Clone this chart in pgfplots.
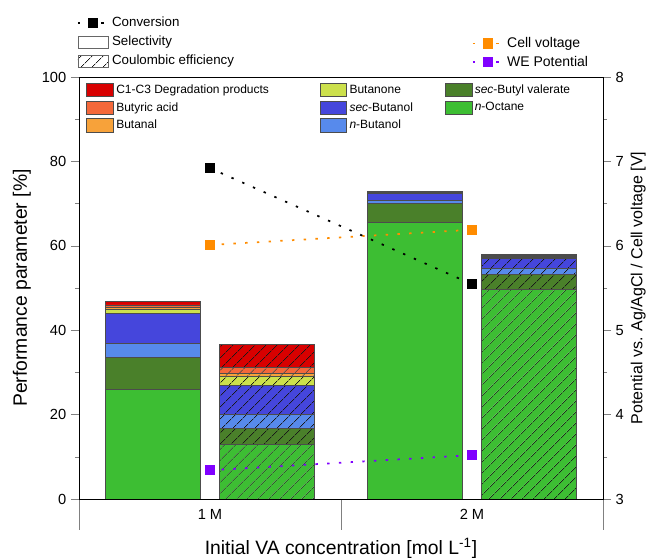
\documentclass[border=0pt]{standalone}
\usepackage{fontspec}
\setmainfont{Liberation Sans}
\usepackage{pgfplots}
\usepackage{pgfplotstable}
\pgfplotsset{compat=1.18}
\usetikzlibrary{patterns.meta}

\definecolor{cCC}{HTML}{D80000}
\definecolor{cBA}{HTML}{F4683A}
\definecolor{cBal}{HTML}{F7A23A}
\definecolor{cBon}{HTML}{CCE04C}
\definecolor{csBu}{HTML}{4546DC}
\definecolor{cnBu}{HTML}{578AEC}
\definecolor{csBV}{HTML}{4A802A}
\definecolor{cOct}{HTML}{3DBE33}
\definecolor{cCV}{HTML}{FF8C00}
\definecolor{cWE}{HTML}{8000FF}

\tikzset{hatch/.style={postaction={pattern={Lines[angle=45,distance=6.5pt,line width=0.6pt]},pattern color=black!90}}}

\pgfplotsset{
  patchA/.style={legend image code/.code={\draw[##1] (0pt,-4.5pt) rectangle (23pt,4.5pt);}},
  lineA/.style={legend image code/.code={\draw[mark repeat=2,mark phase=2,##1] plot coordinates {(0pt,0pt) (11.5pt,0pt) (23pt,0pt)};}},
  common/.style={scale only axis, width=393pt, height=316.5pt, xmin=0.5, xmax=2.5,
    tick label style={font=\fontsize{11}{13}\selectfont},
    /pgf/number format/assume math mode=true,
    tick align=outside, major tick length=6pt, minor tick length=3pt},
}

% selectivity [%]
\pgfplotstableread{
x Oct sBV nBu sBu Bon Bal BA CC
1 26.0 7.6 3.3 7.1 0.9 0.5 0.6 0.8
2 65.5 4.6 0.6 1.7 0.1 0.1 0.1 0.2
}\sel
% coulombic efficiency [%]
\pgfplotstableread{
x Oct sBV nBu sBu Bon Bal BA CC
1 13.0 3.8 3.3 6.8 2.2 0.7 1.3 5.55
2 49.7 3.6 1.35 2.35 0.3 0.2 0.2 0.3
}\ce

\begin{document}
\begin{tikzpicture}
\useasboundingbox (-59.25pt,-45.75pt) rectangle (431.25pt,374.25pt);
% axis 1: selectivity bars, left axis
\begin{axis}[common, ymin=0, ymax=100,
  ybar stacked, bar width=71.25pt, bar shift=-42.75pt,
  xtick=\empty, ytick={0,20,...,100}, minor y tick num=1, ytick pos=left,
  ylabel={Performance parameter [\%]},
  ylabel style={at={(axis description cs:-0.109,0.5)}, anchor=center, font=\fontsize{14.5}{17}\selectfont},
  legend image code/.code={\draw[#1] (0pt,-5pt) rectangle (20pt,5pt);},
  legend style={at={(axis description cs:0.006,0.995)}, anchor=north west, draw=none, fill=none,
    font=\fontsize{9}{10.5}\selectfont, row sep=1.2pt,
    /tikz/column 2/.style={column sep=36pt}, /tikz/column 4/.style={column sep=22pt}},
  legend columns=3, transpose legend, legend cell align=left]
\addplot[fill=cOct, draw=black!70, forget plot] table[x=x,y=Oct]{\sel};
\addplot[fill=csBV, draw=black!70, forget plot] table[x=x,y=sBV]{\sel};
\addplot[fill=cnBu, draw=black!70, forget plot] table[x=x,y=nBu]{\sel};
\addplot[fill=csBu, draw=black!70, forget plot] table[x=x,y=sBu]{\sel};
\addplot[fill=cBon, draw=black!70, forget plot] table[x=x,y=Bon]{\sel};
\addplot[fill=cBal, draw=black!70, forget plot] table[x=x,y=Bal]{\sel};
\addplot[fill=cBA, draw=black!70, forget plot] table[x=x,y=BA]{\sel};
\addplot[fill=cCC, draw=black!70, forget plot] table[x=x,y=CC]{\sel};
\addlegendimage{fill=cCC, draw=black!70}\addlegendentry{C1-C3 Degradation products}
\addlegendimage{fill=cBA, draw=black!70}\addlegendentry{Butyric acid}
\addlegendimage{fill=cBal, draw=black!70}\addlegendentry{Butanal}
\addlegendimage{fill=cBon, draw=black!70}\addlegendentry{Butanone}
\addlegendimage{fill=csBu, draw=black!70}\addlegendentry{\textit{sec}-Butanol}
\addlegendimage{fill=cnBu, draw=black!70}\addlegendentry{\textit{n}-Butanol}
\addlegendimage{fill=csBV, draw=black!70}\addlegendentry{\textit{sec}-Butyl valerate}
\addlegendimage{fill=cOct, draw=black!70}\addlegendentry{\textit{n}-Octane}
\end{axis}
% axis 2: coulombic efficiency bars (hatched) + group separators
\begin{axis}[common, ymin=0, ymax=100,
  ybar stacked, bar width=71.25pt, bar shift=42.75pt,
  ytick=\empty, xtick={0.5,1.5,2.5}, xticklabels={}, xtick pos=bottom,
  major tick length=23.25pt, axis line style={draw=none}]
\addplot[fill=cOct, draw=black!70, hatch] table[x=x,y=Oct]{\ce};
\addplot[fill=csBV, draw=black!70, hatch] table[x=x,y=sBV]{\ce};
\addplot[fill=cnBu, draw=black!70, hatch] table[x=x,y=nBu]{\ce};
\addplot[fill=csBu, draw=black!70, hatch] table[x=x,y=sBu]{\ce};
\addplot[fill=cBon, draw=black!70, hatch] table[x=x,y=Bon]{\ce};
\addplot[fill=cBal, draw=black!70, hatch] table[x=x,y=Bal]{\ce};
\addplot[fill=cBA, draw=black!70, hatch] table[x=x,y=BA]{\ce};
\addplot[fill=cCC, draw=black!70, hatch] table[x=x,y=CC]{\ce};
\end{axis}
% axis 3: right axis potentials
\begin{axis}[common, ymin=3, ymax=8, axis y line*=right, axis x line=none,
  ytick={3,...,8}, minor y tick num=1,
  ylabel={Potential vs. Ag/AgCl / Cell voltage [V]},
  ylabel style={at={(axis description cs:1.067,0.5)}, anchor=center, font=\fontsize{12}{14}\selectfont},
  lineA,
  legend style={at={(axis description cs:0.742,1.107)}, anchor=north west, draw=none, fill=none,
    font=\fontsize{10.5}{12}\selectfont, row sep=1pt},
  legend cell align=left]
\addplot[cCV, line width=1.3pt, dash pattern=on 1.8pt off 7pt, mark=square*, mark size=3.2pt, mark options={solid}]
  coordinates {(1,6.01) (2,6.19)};
\addlegendentry{Cell voltage}
\addplot[cWE, line width=1.3pt, dash pattern=on 1.8pt off 7pt, mark=square*, mark size=3.2pt, mark options={solid}]
  coordinates {(1,3.34) (2,3.52)};
\addlegendentry{WE Potential}
\end{axis}
% axis 4: conversion + frame + category labels
\begin{axis}[common, ymin=0, ymax=100, ytick=\empty,
  xtick={1,2}, xticklabels={1 M,2 M}, xtick pos=bottom, major tick length=0pt,
  xticklabel style={yshift=-4pt},
  xlabel={Initial VA concentration [mol L\textsuperscript{-1}]},
  xlabel style={at={(axis description cs:0.5,-0.116)}, anchor=center, font=\fontsize{14.5}{17}\selectfont},
  lineA,
  legend style={at={(axis description cs:-0.012,1.155)}, anchor=north west, draw=none, fill=none,
    font=\fontsize{10}{12}\selectfont, row sep=1.5pt},
  legend cell align=left]
\addplot[black, line width=1.3pt, dash pattern=on 1.8pt off 7pt, mark=square*, mark size=3.2pt, mark options={solid}]
  coordinates {(1,78.4) (2,50.9)};
\addlegendentry{Conversion}
\addlegendimage{patchA, fill=white, draw=black!60}\addlegendentry{Selectivity}
\addlegendimage{patchA, fill=white, draw=black!60, hatch}\addlegendentry{Coulombic efficiency}
\end{axis}
\end{tikzpicture}
\end{document}
